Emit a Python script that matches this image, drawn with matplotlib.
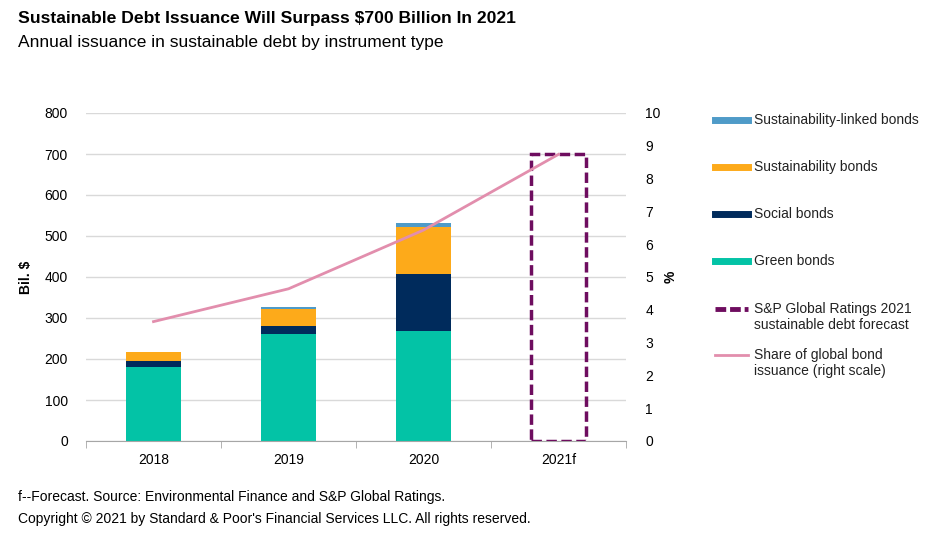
import matplotlib
matplotlib.use("Agg")
import matplotlib.pyplot as plt
from matplotlib.lines import Line2D
import numpy as np

plt.rcParams['font.family'] = ['Liberation Sans', 'DejaVu Sans']

years = ["2018", "2019", "2020", "2021f"]
green = [181, 262, 268, 0]
social = [14, 18, 140, 0]
sustainability = [21, 41, 114, 0]
linked = [1, 7, 10, 0]
forecast_total = 700
share_pct = [3.64, 4.64, 6.43, 8.74]

c_green = "#03C3A6"
c_social = "#002B5C"
c_sust = "#FDAA1A"
c_linked = "#4F9BC8"
c_forecast = "#6E0D5F"
c_share = "#E28EAD"

fig = plt.figure(figsize=(9.36, 5.36), dpi=100)
ax = fig.add_axes([86 / 936, 1 - 441 / 536, 540 / 936, 328 / 536])

x = np.arange(len(years))
w = 0.41
bottom = np.zeros(len(years))
for vals, col in [(green, c_green), (social, c_social), (sustainability, c_sust), (linked, c_linked)]:
    ax.bar(x, vals, w, bottom=bottom, color=col, zorder=2)
    bottom += np.array(vals)

# forecast box for 2021
ax.bar(x[3], forecast_total, w, fill=False, edgecolor=c_forecast, linewidth=2.5,
       linestyle=(0, (3, 1.3)), zorder=3)

ax.set_xlim(-0.5, 3.5)
ax.set_ylim(0, 800)
ax.set_yticks(range(0, 801, 100))
ax.yaxis.grid(True, color="#D9D9D9", linewidth=1)
ax.set_axisbelow(True)
for s in ["top", "right", "left"]:
    ax.spines[s].set_visible(False)
ax.spines["bottom"].set_color("#A6A6A6")
ax.set_xticks(x)
ax.set_xticklabels(years, fontsize=10)
ax.set_xticks(np.arange(-0.5, 3.6, 1), minor=True)
ax.tick_params(axis="x", which="major", length=0, pad=9)
ax.tick_params(axis="x", which="minor", length=5, color="#A6A6A6")
ax.tick_params(axis="y", length=0, labelsize=10, pad=13)
ax.set_ylabel("Bil. $", fontsize=10, fontweight="bold", labelpad=8)

ax2 = ax.twinx()
ax2.plot(x, share_pct, color=c_share, linewidth=2, zorder=4)
ax2.set_ylim(0, 10)
ax2.set_yticks(range(0, 11))
ax2.tick_params(axis="y", length=0, labelsize=10, pad=14)
for s in ["top", "right", "left", "bottom"]:
    ax2.spines[s].set_visible(False)
ax2.set_ylabel("%", fontsize=10, fontweight="bold", labelpad=2)

# legend drawn by hand to match the spacing
H = 536.0
W = 936.0
entries = [
    ("Sustainability-linked bonds", 120, dict(color=c_linked, lw=5)),
    ("Sustainability bonds", 167, dict(color=c_sust, lw=5)),
    ("Social bonds", 214, dict(color=c_social, lw=5)),
    ("Green bonds", 261, dict(color=c_green, lw=5)),
    ("S&P Global Ratings 2021\nsustainable debt forecast", 317, dict(color=c_forecast, lw=3.5, linestyle=(0, (2.2, 0.8)))),
    ("Share of global bond\nissuance (right scale)", 363, dict(color=c_share, lw=2)),
]
for label, ypx, style in entries:
    yline = ypx
    if "\n" in label:
        yline = ypx - 8
    fig.add_artist(Line2D([715 / W, 748 / W], [1 - yline / H, 1 - yline / H], **style))
    fig.text(754 / W, 1 - ypx / H, label, fontsize=10, va="center", ha="left",
             color="#222222", linespacing=1.2)

fig.text(18 / W, 1 - 18 / H, "Sustainable Debt Issuance Will Surpass $700 Billion In 2021",
         fontsize=12.6, fontweight="bold", va="center", ha="left")
fig.text(18 / W, 1 - 43 / H, "Annual issuance in sustainable debt by instrument type",
         fontsize=12.5, va="center", ha="left")
fig.text(18 / W, 1 - 497 / H, "f--Forecast. Source: Environmental Finance and S&P Global Ratings.",
         fontsize=10, va="center", ha="left")
fig.text(18 / W, 1 - 519 / H, "Copyright \u00a9 2021 by Standard & Poor's Financial Services LLC. All rights reserved.",
         fontsize=10, va="center", ha="left")

fig.savefig("out.png", dpi=100)
